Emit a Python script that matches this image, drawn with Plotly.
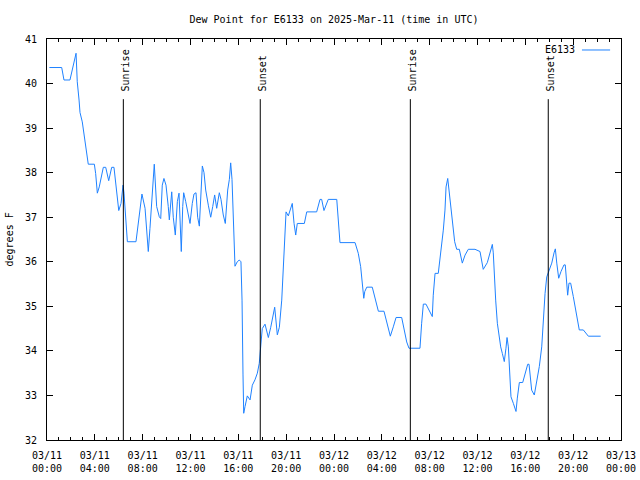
import pandas as pd
import plotly.graph_objects as go

# hours since 2025-03-11 00:00 UTC
hours = [0.2, 1.23, 1.42, 1.92, 2.43, 2.53, 2.68, 2.76, 2.95, 3.12, 3.32, 3.45, 3.96, 4.07, 4.21, 4.37,
         4.71, 4.91, 5.16, 5.41, 5.6, 5.88, 6.0, 6.19, 6.36, 6.44, 6.61, 6.72, 7.44, 7.64, 7.94, 8.2,
         8.34, 8.47, 8.61, 8.81, 8.97, 9.17, 9.39, 9.51, 9.64, 9.78, 9.95, 10.14, 10.23, 10.43, 10.56,
         10.73, 10.9, 11.04, 11.18, 11.23, 11.35, 11.43, 11.6, 11.82, 11.96, 12.15, 12.29, 12.46, 12.6,
         12.74, 12.88, 12.99, 13.13, 13.27, 13.49, 13.69, 13.86, 14.02, 14.19, 14.41, 14.55, 14.74,
         14.91, 15.11, 15.25, 15.36, 15.47, 15.55, 15.64, 15.72, 15.91, 16.08, 16.22, 16.31, 16.39,
         16.45, 16.56, 16.75, 16.98, 17.17, 17.39, 17.59, 17.75, 17.87, 18.0, 18.23, 18.51, 18.71,
         18.92, 19.04, 19.26, 19.43, 19.63, 19.76, 19.9, 19.99, 20.18, 20.32, 20.51, 20.66, 20.8,
         20.93, 21.52, 21.72, 22.55, 22.83, 22.97, 23.16, 23.52, 24.23, 24.36, 24.5, 25.76, 26.03,
         26.23, 26.4, 26.49, 26.57, 26.74, 27.2, 27.49, 27.71, 28.18, 28.41, 28.71, 28.96, 29.19,
         29.66, 29.88, 30.08, 30.27, 31.19, 31.33, 31.47, 31.69, 32.03, 32.22, 32.3, 32.45, 32.72,
         32.86, 33.01, 33.14, 33.28, 33.37, 33.51, 33.64, 33.79, 33.93, 34.09, 34.26, 34.48, 34.73,
         34.96, 35.23, 35.79, 36.21, 36.48, 36.82, 37.05, 37.24, 37.32, 37.41, 37.52, 37.66, 37.8,
         37.94, 38.08, 38.24, 38.38, 38.47, 38.58, 38.66, 38.72, 38.8, 39.0, 39.22, 39.33, 39.5,
         39.78, 39.97, 40.2, 40.31, 40.39, 40.53, 40.75, 40.95, 41.17, 41.37, 41.5, 41.65, 41.79,
         41.98, 42.21, 42.4, 42.51, 42.63, 42.79, 42.98, 43.23, 43.34, 43.46, 43.54, 43.65, 43.79,
         44.01, 44.24, 44.38, 44.51, 44.85, 45.27, 46.3]

dew_point = [40.36, 40.36, 40.08, 40.08, 40.68, 40.04, 39.63, 39.35, 39.14, 38.84, 38.47, 38.19, 38.19,
             37.98, 37.54, 37.68, 38.12, 38.12, 37.82, 38.12, 38.12, 37.5, 37.15, 37.31, 37.72, 37.54,
             36.94, 36.45, 36.45, 36.9, 37.52, 37.2, 36.75, 36.23, 36.75, 37.69, 38.19, 37.24, 37.01,
             36.97, 37.72, 37.87, 37.72, 37.24, 36.94, 37.57, 37.0, 36.6, 37.35, 37.54, 36.49, 36.23,
             37.24, 37.55, 37.35, 37.05, 36.86, 37.31, 37.52, 37.55, 37.0, 36.8, 37.61, 38.15, 38.0,
             37.61, 37.27, 37.0, 37.24, 37.5, 37.2, 37.55, 37.4, 37.05, 36.86, 37.61, 37.85, 38.22,
             37.85, 37.05, 36.3, 35.9, 36.0, 36.04, 36.0, 35.14, 33.46, 32.6, 32.75, 32.99, 32.9,
             33.23, 33.35, 33.5, 33.72, 34.17, 34.5, 34.6, 34.3, 34.53, 34.88, 34.98, 34.36, 34.53,
             35.14, 35.85, 36.38, 37.12, 37.03, 37.16, 37.31, 36.86, 36.6, 36.86, 36.86, 37.12, 37.12,
             37.4, 37.4, 37.15, 37.4, 37.4, 36.82, 36.43, 36.43, 36.19, 35.89, 35.4, 35.18, 35.33,
             35.43, 35.43, 35.1, 34.89, 34.89, 34.62, 34.33, 34.54, 34.75, 34.75, 34.47, 34.2, 34.06,
             34.06, 34.62, 35.05, 35.05, 34.86, 34.77, 35.25, 35.74, 35.74, 36.04, 36.34, 36.71,
             37.16, 37.68, 37.87, 37.57, 37.24, 36.82, 36.45, 36.28, 36.28, 35.97, 36.15, 36.28,
             36.28, 36.23, 35.83, 35.98, 36.2, 36.39, 36.2, 35.63, 35.14, 34.62, 34.28, 34.09, 33.94,
             33.76, 34.06, 34.3, 34.09, 33.65, 33.23, 32.97, 32.82, 32.64, 32.94, 33.29, 33.29, 33.46,
             33.7, 33.7, 33.42, 33.12, 33.01, 33.31, 33.65, 34.09, 34.69, 35.29, 35.66, 35.82, 35.97,
             36.2, 36.29, 35.97, 35.63, 35.78, 35.93, 35.93, 35.4, 35.25, 35.52, 35.52, 35.22, 34.88,
             34.62, 34.47, 34.47, 34.33, 34.33]

events = ["Sunrise", "Sunset", "Sunrise", "Sunset"]
event_times = ["2025-03-11 06:23", "2025-03-11 17:50", "2025-03-12 06:23", "2025-03-12 17:55"]
event_top = 39.65

tick_vals = ["2025-03-11 00:00", "2025-03-11 04:00", "2025-03-11 08:00", "2025-03-11 12:00",
             "2025-03-11 16:00", "2025-03-11 20:00", "2025-03-12 00:00", "2025-03-12 04:00",
             "2025-03-12 08:00", "2025-03-12 12:00", "2025-03-12 16:00", "2025-03-12 20:00",
             "2025-03-13 00:00"]
tick_text = ["03/11<br>00:00", "03/11<br>04:00", "03/11<br>08:00", "03/11<br>12:00",
             "03/11<br>16:00", "03/11<br>20:00", "03/12<br>00:00", "03/12<br>04:00",
             "03/12<br>08:00", "03/12<br>12:00", "03/12<br>16:00", "03/12<br>20:00",
             "03/13<br>00:00"]
y_ticks = [32, 33, 34, 35, 36, 37, 38, 39, 40, 41]

base = pd.Timestamp("2025-03-11 00:00")
times = base + pd.to_timedelta(hours, unit="h")

FONT = "DejaVu Sans Mono"
FS = 10
LINE = "#1f82ff"

fig = go.Figure()
fig.add_trace(go.Scatter(x=times, y=dew_point, mode="lines", name="E6133",
                         line=dict(color=LINE, width=1), showlegend=False))

for name, t in zip(events, event_times):
    fig.add_shape(type="line", xref="x", yref="y", x0=t, x1=t, y0=32, y1=event_top,
                  line=dict(color="black", width=1))
    fig.add_annotation(x=t, y=event_top, xref="x", yref="y", text=name, textangle=-90,
                       showarrow=False, xanchor="center", yanchor="bottom", yshift=6, xshift=2,
                       font=dict(family=FONT, size=FS, color="black"))

# legend imitation (gnuplot style: text then line sample)
fig.add_annotation(x=0.924, y=0.9726, xref="paper", yref="paper", text="E6133",
                   showarrow=False, xanchor="right", yanchor="middle",
                   font=dict(family=FONT, size=FS, color="black"))
fig.add_shape(type="line", xref="paper", yref="paper", x0=0.932, x1=0.981, y0=0.9726, y1=0.9726,
              line=dict(color=LINE, width=1))

fig.add_annotation(x=-0.0645, y=0.5, xref="paper", yref="paper", text="degrees F", textangle=-90,
                   showarrow=False, xanchor="center", yanchor="middle",
                   font=dict(family=FONT, size=FS, color="black"))

fig.update_layout(
    width=640, height=480,
    margin=dict(l=47, r=19, t=39, b=40),
    paper_bgcolor="white", plot_bgcolor="white",
    font=dict(family=FONT, size=FS, color="black"),
    title=dict(text="Dew Point for E6133 on 2025-Mar-11 (time in UTC)", x=334/640, xanchor="center",
               y=1 - 19/480, yanchor="middle", font=dict(family=FONT, size=FS, color="black")),
    showlegend=False,
)
fig.update_xaxes(
    type="date", range=["2025-03-11 00:00", "2025-03-13 00:00"],
    tickmode="array", tickvals=tick_vals, ticktext=tick_text,
    ticks="inside", ticklen=6, tickcolor="black", tickwidth=1,
    minor=dict(ticks="inside", ticklen=3, dtick=3600000, tick0="2025-03-11", tickcolor="black"),
    showline=True, linecolor="black", linewidth=1, mirror="allticks",
    showgrid=False, zeroline=False, automargin=False, ticklabelstandoff=6,
    tickfont=dict(family=FONT, size=FS),
)
fig.update_yaxes(
    range=[32, 41], tickmode="array", tickvals=y_ticks,
    ticks="inside", ticklen=6, tickcolor="black", tickwidth=1,
    showline=True, linecolor="black", linewidth=1, mirror="allticks",
    showgrid=False, zeroline=False, automargin=False, ticklabelstandoff=7,
    tickfont=dict(family=FONT, size=FS),
)

fig.write_html("out.html")
